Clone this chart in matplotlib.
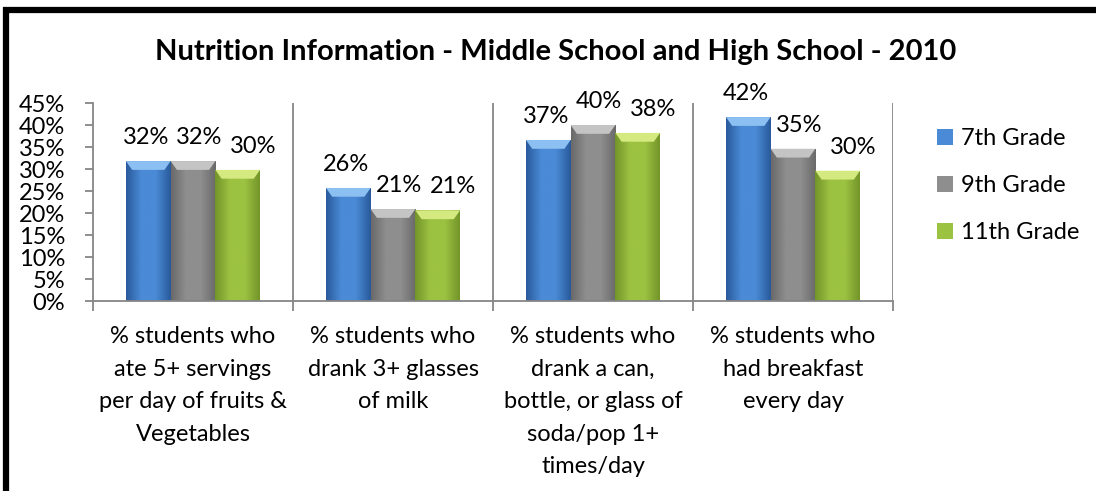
import matplotlib
matplotlib.use("Agg")
import matplotlib.pyplot as plt
import numpy as np
from matplotlib.patches import Rectangle, Polygon
from matplotlib.colors import LinearSegmentedColormap

plt.rcParams['font.family'] = ['Lato', 'DejaVu Sans']

categories = [
    "% students who\nate 5+ servings\nper day of fruits &\nVegetables",
    "% students who\ndrank 3+ glasses\nof milk",
    "% students who\ndrank a can,\nbottle, or glass of\nsoda/pop 1+\ntimes/day",
    "% students who\nhad breakfast\nevery day",
]
series_names = ["7th Grade", "9th Grade", "11th Grade"]
grade7 = [31.8, 25.7, 36.6, 41.8]
grade9 = [31.8, 20.9, 40.0, 34.6]
grade11 = [29.8, 20.6, 38.2, 29.6]
yticks = [0, 5, 10, 15, 20, 25, 30, 35, 40, 45]

# edge / middle / top-bevel colours for each series
palette = [
    ("#2a5a9c", "#4a8ad6", "#8cc0f2"),
    ("#6a6a6a", "#8e8e8e", "#c4c4c4"),
    ("#74952a", "#9cc241", "#d4ea80"),
]
label_dx = [-1.5, 4.5, 11]   # data labels sit a bit to the right, like Excel's 3D labels

W, H = 1096, 491
fig = plt.figure(figsize=(W / 100, H / 100), dpi=100)
ax = fig.add_axes([93 / W, (H - 301) / H, 800 / W, 198 / H])

# black frame (only left/top visible in the original crop)
fig.patches.append(Rectangle((6 / W, -0.1), 1.2, (H - 10) / H + 0.1,
                             transform=fig.transFigure, fill=False,
                             edgecolor="black", linewidth=4.5, zorder=0))

x = np.arange(len(categories))
bw = 0.2235
data = [grade7, grade9, grade11]

for i, vals in enumerate(data):
    edge, mid, top = palette[i]
    bars = ax.bar(x + (i - 1) * bw, vals, bw, color=mid, edgecolor="none",
                  label=series_names[i], zorder=2)
    cmap = LinearSegmentedColormap.from_list("g%d" % i, [edge, mid, mid, edge])
    grad = np.linspace(0, 1, 64).reshape(1, -1)
    for b, v in zip(bars, vals):
        x0 = b.get_x()
        im = ax.imshow(grad, cmap=cmap, aspect="auto",
                       extent=(x0, x0 + bw, 0, v), zorder=2.1)
        im.set_clip_path(b)
        # lighter bevel on the top of each bar
        ax.add_patch(Polygon([(x0, v), (x0 + bw, v), (x0 + bw * 0.86, v - 2.0),
                              (x0 + bw * 0.14, v - 2.0)],
                             closed=True, facecolor=top, edgecolor="none", zorder=2.2))
        ax.annotate("%.0f%%" % v, (x0 + bw / 2, v), xytext=(label_dx[i], 17),
                    textcoords="offset points", ha="center", va="center",
                    fontsize=17)

ax.set_xlim(-0.5, 3.5)
ax.set_ylim(0, 45)
ax.set_yticks(yticks)
ax.set_yticklabels(["%d%%" % t for t in yticks], fontsize=17)

# category separators
for b in [0.5, 1.5, 2.5, 3.5]:
    ax.axvline(b, color="#868686", linewidth=1.3, zorder=1)
ax.set_xticks(np.arange(-0.5, 4, 1.0))
ax.set_xticklabels([])
ax.set_xticks(x, minor=True)
ax.set_xticklabels(categories, minor=True, fontsize=17, linespacing=1.68)
ax.tick_params(axis="x", which="major", length=7, color="#868686", width=1.3)
ax.tick_params(axis="x", which="minor", length=0, pad=18)
ax.tick_params(axis="y", length=6, color="#868686", width=1.3, pad=14, direction="out")

for s in ["top", "right"]:
    ax.spines[s].set_visible(False)
for s in ["left", "bottom"]:
    ax.spines[s].set_color("#868686")
    ax.spines[s].set_linewidth(1.3)

fig.text(556 / W, 1 - 52 / H, "Nutrition Information - Middle School and High School - 2010",
         ha="center", va="center", fontsize=21, fontweight="bold")

fig.legend(loc="upper left", bbox_to_anchor=(928 / W, 1 - 119 / H), frameon=False,
           fontsize=17, handlelength=0.65, handleheight=0.65, handletextpad=0.35,
           labelspacing=1.1, borderaxespad=0)

fig.savefig("out.png", dpi=100)
